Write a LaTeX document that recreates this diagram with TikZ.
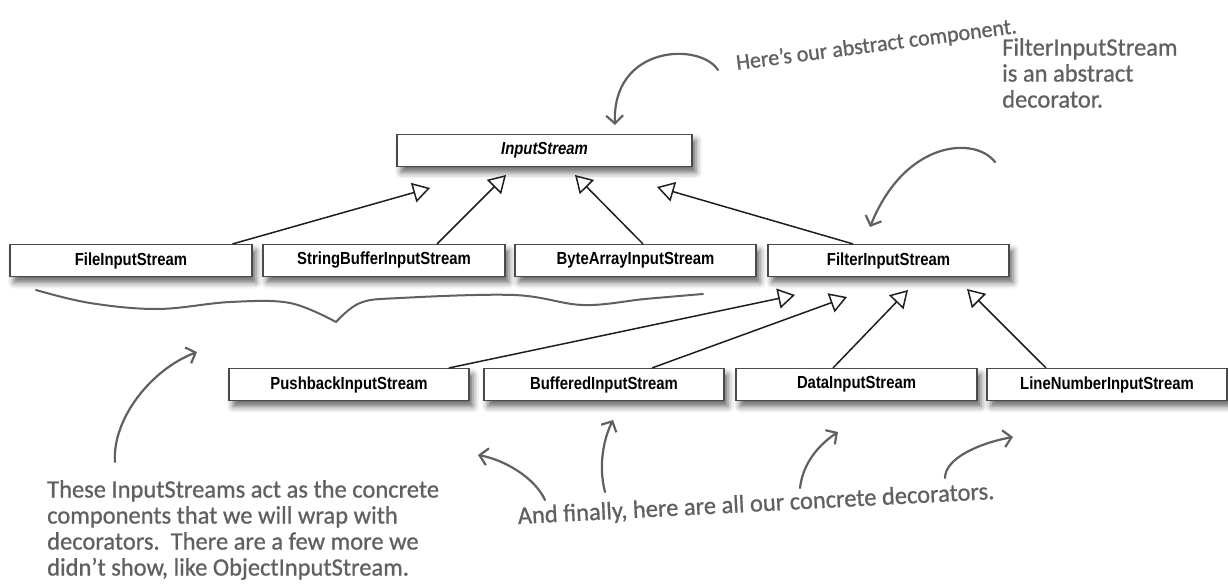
\documentclass[tikz,border=0pt]{standalone}
\usepackage{fontspec}
\setmainfont{Liberation Sans}
\newfontfamily\boxfont{Liberation Sans}[FakeStretch=0.85]
\newfontfamily\handfont{Carlito}[FakeStretch=0.98, FakeBold=0.8]
\usetikzlibrary{calc, arrows.meta, shadows.blur}

\begin{document}
\begin{tikzpicture}[x=1pt, y=-1pt,
    classbox/.style={draw=borderColour, fill=white, line width=1.1pt, minimum height=32pt, inner sep=0pt,
        font=\boxfont\bfseries\fontsize{17.5}{20}\selectfont,
        blur shadow={shadow xshift=4pt, shadow yshift=-6pt, shadow blur radius=6pt, shadow opacity=60}},
    extends/.style={draw=lineColour, line width=1.5pt, -{Triangle[open, length=17pt, width=20pt, line width=1.5pt]}},
    hand/.style={draw=handColour, line width=2.2pt, line cap=round, -{Straight Barb[length=8pt, width=17pt]}},
    note/.style={text=handColour, inner sep=0pt, align=left, font=\handfont\fontsize{25}{26}\selectfont}]

    % Define colours
    \definecolor{borderColour}{HTML}{4A4A4A}
    \definecolor{lineColour}{HTML}{1E1E1E}
    \definecolor{handColour}{HTML}{606060}

    \useasboundingbox (0,0) rectangle (1228,585);

    % Abstract component
    \node[classbox, minimum width=295pt, font=\boxfont\bfseries\itshape\fontsize{17.5}{20}\selectfont] (inputStream) at (544.5,150.5) {InputStream};

    % Concrete components and the abstract decorator
    \node[classbox, minimum width=242pt] (fileIS) at (131,260.5) {FileInputStream};
    \node[classbox, minimum width=242pt] (stringBufferIS) at (384,260.5) {StringBufferInputStream};
    \node[classbox, minimum width=241pt] (byteArrayIS) at (635.5,260.5) {ByteArrayInputStream};
    \node[classbox, minimum width=241pt] (filterIS) at (888.5,260.5) {FilterInputStream};

    % Concrete decorators
    \node[classbox, minimum width=240pt] (pushbackIS) at (349,384.5) {PushbackInputStream};
    \node[classbox, minimum width=240pt] (bufferedIS) at (604,384.5) {BufferedInputStream};
    \node[classbox, minimum width=241pt] (dataIS) at (856.5,384.5) {DataInputStream};
    \node[classbox, minimum width=240pt] (lineNumberIS) at (1107,384.5) {LineNumberInputStream};

    % Arrow tips under the parents
    \coordinate (tipFile) at (430,188);
    \coordinate (tipStringBuffer) at (506,175);
    \coordinate (tipByteArray) at (575,175);
    \coordinate (tipFilter) at (657,187);
    \coordinate (tipPushback) at (795,295);
    \coordinate (tipBuffered) at (847,297);
    \coordinate (tipData) at (908,290);
    \coordinate (tipLineNumber) at (967,289);

    % Draw inheritance arrows
    \draw[extends] ([xshift=-20pt]fileIS.north east) -- (tipFile);
    \draw[extends] ([xshift=53pt]stringBufferIS.north) -- (tipStringBuffer);
    \draw[extends] ([xshift=7.5pt]byteArrayIS.north) -- (tipByteArray);
    \draw[extends] ([xshift=-35.5pt]filterIS.north) -- (tipFilter);
    \draw[extends] ([xshift=100pt]pushbackIS.north) -- (tipPushback);
    \draw[extends] ([xshift=48pt]bufferedIS.north) -- (tipBuffered);
    \draw[extends] ([xshift=-23.5pt]dataIS.north) -- (tipData);
    \draw[extends] ([xshift=-61pt]lineNumberIS.north) -- (tipLineNumber);

    % Handwritten notes
    \node[note, anchor=base west, rotate=7.5, font=\handfont\fontsize{22.5}{26}\selectfont] (noteComponent) at (737,70) {Here’s our abstract component.};
    \node[note, anchor=north west] (noteDecorator) at (1002,38) {FilterInputStream\\is an abstract\\decorator.};
    \node[note, anchor=north west] (noteConcrete) at (47,480) {These InputStreams act as the concrete\\components that we will wrap with\\decorators.\ \ There are a few more we\\didn’t show, like ObjectInputStream.};
    \node[note, anchor=base west, rotate=3] (noteFinally) at (518,524) {And finally, here are all our concrete decorators.};

    % Brace under the concrete components
    \draw[handColour, line width=2pt, line cap=round] plot[smooth, tension=0.6] coordinates {(36,290) (90,303) (158,309) (230,302) (290,303) (336,322)};
    \draw[handColour, line width=2pt, line cap=round] plot[smooth, tension=0.6] coordinates {(336,322) (360,303) (400,298) (514,295) (583,305) (645,299) (703,294)};

    % Hand arrows
    \coordinate (componentStart) at (718,70);
    \coordinate (componentEnd) at (615,125);
    \draw[hand] (componentStart) .. controls (700,42) and (612,45) .. (componentEnd);

    \coordinate (decoratorStart) at (995,162);
    \coordinate (decoratorEnd) at (870,227);
    \draw[hand] (decoratorStart) .. controls (975,136) and (905,140) .. (decoratorEnd);

    \coordinate (concreteStart) at (115,462);
    \coordinate (concreteEnd) at (197,352);
    \draw[hand] (concreteStart) .. controls (112,420) and (150,370) .. (concreteEnd);

    \coordinate (finallyA) at (545,500);
    \coordinate (finallyB) at (605,492);
    \coordinate (finallyC) at (800,488);
    \coordinate (finallyD) at (945,478);
    \coordinate (pointA) at (478,455);
    \coordinate (pointB) at (613,420);
    \coordinate (pointC) at (838,432);
    \coordinate (pointD) at (1013,437);
    \draw[hand] (finallyA) .. controls (535,478) and (505,460) .. (pointA);
    \draw[hand] (finallyB) .. controls (598,465) and (604,438) .. (pointB);
    \draw[hand] (finallyC) .. controls (803,462) and (820,444) .. (pointC);
    \draw[hand] (finallyD) .. controls (945,458) and (980,443) .. (pointD);

\end{tikzpicture}
\end{document}
